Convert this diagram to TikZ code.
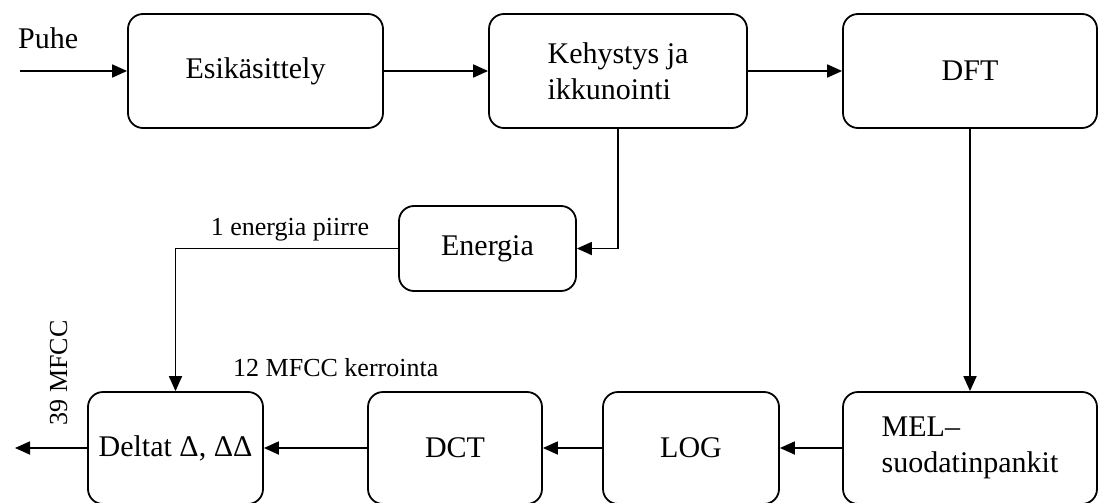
\documentclass[tikz,border=0pt]{standalone}
\usepackage{fontspec}
\setmainfont{Liberation Serif}
\usetikzlibrary{arrows.meta}
\begin{document}
\begin{tikzpicture}[x=1pt,y=-1pt,
  stage/.style={draw, line width=1.8pt, rounded corners=15pt, fill=white,
    inner sep=0pt, align=left,
    font=\fontsize{30}{36}\selectfont},
  flow/.style={line width=1.8pt, -{Triangle[length=15pt,width=13pt]}},
  tag/.style={inner sep=0pt, font=\fontsize{26}{30}\selectfont}]
  \useasboundingbox (0,0) rectangle (1098,503);

  % top row
  \node[stage, minimum width=255pt, minimum height=114pt] (esi) at (255.5,71) {Esikäsittely};
  \node[stage, minimum width=258pt, minimum height=114pt] (keh) at (618,71) {Kehystys ja\\ikkunointi};
  \node[stage, minimum width=254pt, minimum height=114pt] (dft) at (970,71) {DFT};

  % energy branch
  \node[stage, minimum width=177pt, minimum height=85pt] (ene) at (487.5,248.5) {Energia};

  % bottom row
  \node[stage, minimum width=175pt, minimum height=112pt] (del) at (175.5,448) {Deltat Δ, ΔΔ};
  \node[stage, minimum width=174pt, minimum height=112pt] (dct) at (455,448) {DCT};
  \node[stage, minimum width=176pt, minimum height=112pt] (log) at (691,448) {LOG};
  \node[stage, minimum width=254pt, minimum height=112pt] (mel) at (970,448) {MEL–\\suodatinpankit};

  % free ends
  \coordinate (in) at (20,71);
  \coordinate (out) at (15,448);

  % labels
  \node[tag, anchor=base west, font=\fontsize{30}{36}\selectfont] (puhe) at (18,49) {Puhe};
  \node[tag, anchor=base] (epiirre) at (290,235) {1 energia piirre};
  \node[tag, anchor=base west] (mfcc12) at (233,376) {12 MFCC kerrointa};
  \node[tag, anchor=base, rotate=90] (mfcc39) at (67,373) {39 MFCC};

  % connectors
  \draw[flow] (in) -- (esi.west);
  \draw[flow] (esi.east) -- (keh.west);
  \draw[flow] (keh.east) -- (dft.west);
  \draw[flow] (keh.south) |- (ene.east);
  \draw[flow] (ene.west) -| (del.north);
  \draw[flow] (dft.south) -- (mel.north);
  \draw[flow] (mel.west) -- (log.east);
  \draw[flow] (log.west) -- (dct.east);
  \draw[flow] (dct.west) -- (del.east);
  \draw[flow] (del.west) -- (out);
\end{tikzpicture}
\end{document}
